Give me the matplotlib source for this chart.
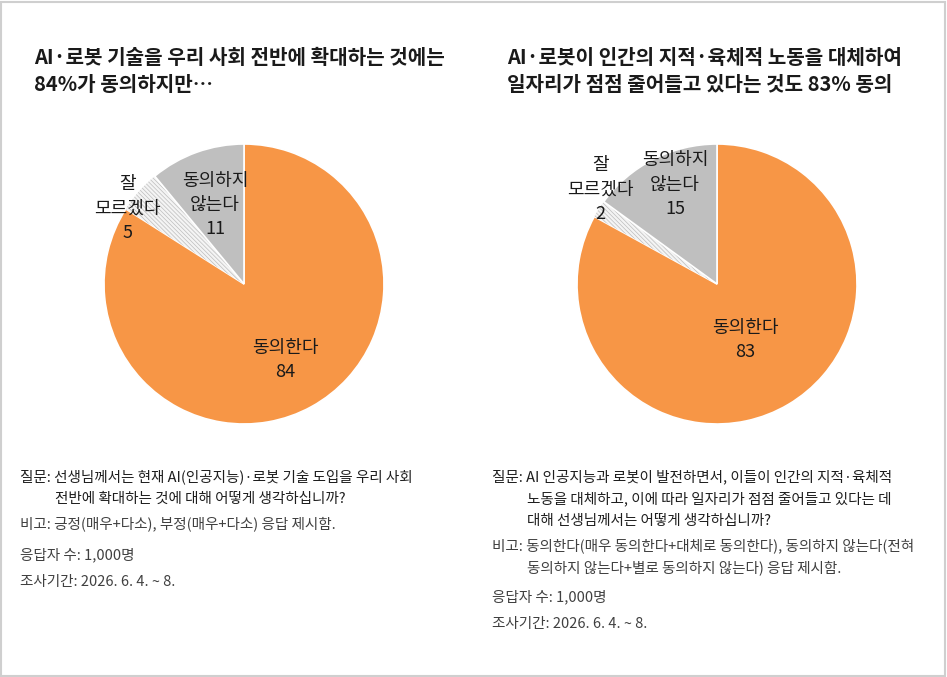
import matplotlib.pyplot as plt
from matplotlib.patches import Rectangle
import numpy as np

plt.rcParams["font.family"] = ["Noto Sans CJK KR", "DejaVu Sans"]
plt.rcParams["hatch.linewidth"] = 0.5

W, H = 947, 677

# dados
categorias = ["동의한다", "잘\n모르겠다", "동의하지\n않는다"]
valores_esq = [84, 5, 11]
valores_dir = [83, 2, 15]

titulo_esq = "AI·로봇 기술을 우리 사회 전반에 확대하는 것에는\n84%가 동의하지만…"
titulo_dir = "AI·로봇이 인간의 지적·육체적 노동을 대체하여\n일자리가 점점 줄어들고 있다는 것도 83% 동의"

notas_esq = [
    ["질문: 선생님께서는 현재 AI(인공지능)·로봇 기술 도입을 우리 사회",
     "전반에 확대하는 것에 대해 어떻게 생각하십니까?"],
    ["비고: 긍정(매우+다소), 부정(매우+다소) 응답 제시함."],
    ["응답자 수: 1,000명"],
    ["조사기간: 2026. 6. 4. ~ 8."],
]
notas_dir = [
    ["질문: AI 인공지능과 로봇이 발전하면서, 이들이 인간의 지적·육체적",
     "노동을 대체하고, 이에 따라 일자리가 점점 줄어들고 있다는 데",
     "대해 선생님께서는 어떻게 생각하십니까?"],
    ["비고: 동의한다(매우 동의한다+대체로 동의한다), 동의하지 않는다(전혀",
     "동의하지 않는다+별로 동의하지 않는다) 응답 제시함."],
    ["응답자 수: 1,000명"],
    ["조사기간: 2026. 6. 4. ~ 8."],
]

LARANJA = "#F79646"
CINZA = "#BFBFBF"
TEXTO = "#1a1a1a"
NOTA = "#404040"

fig = plt.figure(figsize=(W / 100, H / 100), dpi=100)
fig.patch.set_facecolor("white")
fig.patches.append(Rectangle((1 / W, 1 / H), 1 - 3 / W, 1 - 3 / H, transform=fig.transFigure,
                             fill=False, edgecolor="#cfcfcf", linewidth=1.5))


def px(x, y):
    return x / W, 1 - y / H


def desenha_pizza(cx, cy, r, valores, rotulos_pos):
    ax = fig.add_axes([(cx - r) / W, (H - cy - r) / H, 2 * r / W, 2 * r / H])
    wedges, _ = ax.pie(valores, startangle=90, counterclock=False,
                       colors=[LARANJA, "#f4f4f4", CINZA],
                       wedgeprops=dict(edgecolor="white", linewidth=1.2))
    wedges[1].set_hatch("\\\\\\\\\\\\\\\\")
    wedges[1].set_edgecolor("#bdbdbd")
    wedges[1].set_linewidth(0)
    ax.set_xlim(-1, 1)
    ax.set_ylim(-1, 1)
    ax.set_aspect("equal")
    ax.axis("off")
    for cat, val, (rr, ang) in zip(categorias, valores, rotulos_pos):
        a = np.deg2rad(ang)
        ax.text(rr * np.cos(a), rr * np.sin(a), f"{cat}\n{val}", ha="center", va="center",
                fontsize=13, color=TEXTO, linespacing=1.45, clip_on=False)


desenha_pizza(244, 284, 140, valores_esq, [(0.62, -61.5), (0.99, 147), (0.6, 110)])
desenha_pizza(717, 284, 140, valores_dir, [(0.45, -63), (1.07, 141), (0.77, 113)])

fig.text(*px(34, 71), titulo_esq, fontsize=14.5, fontweight="bold", color=TEXTO,
         va="center", linespacing=1.4)
fig.text(*px(507, 71), titulo_dir, fontsize=14.5, fontweight="bold", color=TEXTO,
         va="center", linespacing=1.4)


def desenha_notas(x0, x_ind, y0, notas, gaps):
    y = y0
    for k, linhas in enumerate(notas):
        cor = "#1e1e1e" if k == 0 else NOTA
        for i, linha in enumerate(linhas):
            x = x0 if i == 0 else x_ind
            fig.text(*px(x, y), linha, fontsize=10.5, color=cor, va="center")
            y += 22
        if k < len(gaps):
            y += gaps[k]


desenha_notas(20, 55, 477, notas_esq, [3, 9, 5])
desenha_notas(492, 527, 477, notas_dir, [3, 7, 5])

fig.savefig("out.png", dpi=100)
